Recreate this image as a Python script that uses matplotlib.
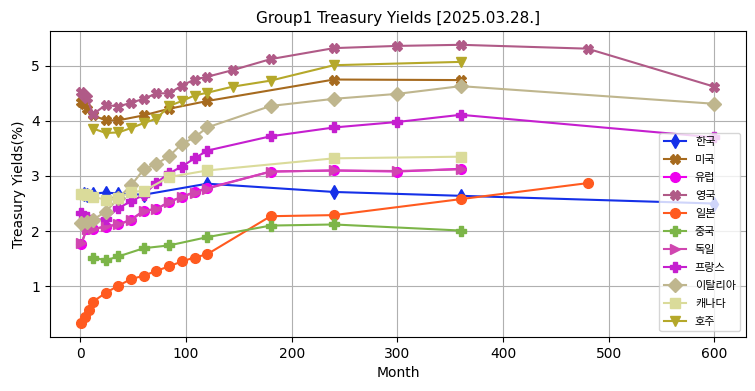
import matplotlib
matplotlib.use('Agg')
import matplotlib.pyplot as plt

plt.rcParams['font.family'] = ['DejaVu Sans', 'Noto Sans CJK KR']

# month -> yield(%)
kr_m = [3, 6, 12, 24, 36, 60, 120, 240, 360, 600]
kr_y = [2.68, 2.66, 2.68, 2.70, 2.68, 2.66, 2.86, 2.71, 2.64, 2.50]

us_m = [1, 3, 6, 12, 24, 36, 60, 84, 120, 240, 360]
us_y = [4.34, 4.30, 4.22, 4.10, 4.01, 4.01, 4.10, 4.22, 4.36, 4.75, 4.74]

eu_m = [1, 6, 12, 24, 36, 48, 60, 72, 84, 96, 108, 120, 180, 240, 300, 360]
eu_y = [1.77, 2.04, 2.04, 2.08, 2.12, 2.21, 2.37, 2.40, 2.53, 2.62, 2.71, 2.78,
        3.08, 3.10, 3.08, 3.13]

uk_m = [1, 3, 6, 12, 24, 36, 48, 60, 72, 84, 96, 108, 120, 144, 180, 240, 300,
        360, 480, 600]
uk_y = [4.53, 4.47, 4.42, 4.12, 4.29, 4.26, 4.33, 4.40, 4.50, 4.50, 4.64, 4.75,
        4.80, 4.92, 5.12, 5.32, 5.36, 5.38, 5.31, 4.62]

jp_m = [1, 4, 8, 12, 24, 36, 48, 60, 72, 84, 96, 108, 120, 180, 240, 360, 480]
jp_y = [0.33, 0.45, 0.57, 0.72, 0.88, 1.01, 1.13, 1.19, 1.28, 1.36, 1.45, 1.52,
        1.58, 2.27, 2.29, 2.58, 2.87]

cn_m = [12, 24, 36, 60, 84, 120, 180, 240, 360]
cn_y = [1.52, 1.47, 1.54, 1.69, 1.74, 1.89, 2.10, 2.12, 2.01]

de_m = [1, 6, 12, 24, 36, 48, 60, 72, 84, 96, 108, 120, 180, 240, 300, 360]
de_y = [1.78, 2.04, 2.03, 2.09, 2.12, 2.20, 2.37, 2.40, 2.53, 2.62, 2.70, 2.77,
        3.08, 3.10, 3.09, 3.12]

fr_m = [1, 6, 12, 24, 36, 48, 60, 72, 84, 96, 108, 120, 180, 240, 300, 360, 600]
fr_y = [2.33, 2.26, 2.20, 2.22, 2.42, 2.54, 2.66, 2.88, 3.05, 3.17, 3.32, 3.46,
        3.72, 3.88, 3.98, 4.11, 3.70]

it_m = [1, 6, 12, 24, 36, 48, 60, 72, 84, 96, 108, 120, 180, 240, 300, 360, 600]
it_y = [2.14, 2.16, 2.21, 2.35, 2.60, 2.83, 3.12, 3.22, 3.36, 3.58, 3.70, 3.88,
        4.27, 4.40, 4.49, 4.63, 4.31]

ca_m = [1, 3, 6, 12, 24, 36, 48, 60, 84, 120, 240, 360]
ca_y = [2.67, 2.67, 2.65, 2.62, 2.57, 2.60, 2.71, 2.73, 2.98, 3.10, 3.32, 3.35]

au_m = [12, 24, 36, 48, 60, 72, 84, 96, 108, 120, 144, 180, 240, 360]
au_y = [3.86, 3.78, 3.79, 3.87, 3.96, 4.04, 4.27, 4.36, 4.46, 4.51, 4.62, 4.73,
        5.01, 5.07]

series = [
    ('한국', kr_m, kr_y, '#1530e8', 'd'),
    ('미국', us_m, us_y, '#a66a1e', 'X'),
    ('유럽', eu_m, eu_y, '#ee00ee', 'o'),
    ('영국', uk_m, uk_y, '#b05a87', 'X'),
    ('일본', jp_m, jp_y, '#ff5a1f', 'o'),
    ('중국', cn_m, cn_y, '#7cb548', 'P'),
    ('독일', de_m, de_y, '#d046b0', '>'),
    ('프랑스', fr_m, fr_y, '#c51fcf', 'P'),
    ('이탈리아', it_m, it_y, '#bfb68e', 'D'),
    ('캐나다', ca_m, ca_y, '#dadb9a', 's'),
    ('호주', au_m, au_y, '#b5a82a', 'v'),
]

fig, ax = plt.subplots(figsize=(7.55, 3.91), dpi=100)
fig.subplots_adjust(left=0.066, right=0.988, bottom=0.138, top=0.921)

for name, m, y, c, mk in series:
    ax.plot(m, y, color=c, marker=mk, markersize=7, linewidth=1.5, label=name)

ax.set_title('Group1 Treasury Yields [2025.03.28.]', fontsize=11)
ax.set_xlabel('Month')
ax.set_ylabel('Treasury Yields(%)')
ax.grid(True, color='#b0b0b0')
ax.set_axisbelow(True)
ax.legend(loc='lower right', prop={'family': ['Noto Sans CJK KR', 'DejaVu Sans'], 'size': 8},
          handlelength=2.0, labelspacing=0.72)

plt.savefig('out.png', dpi=100)
